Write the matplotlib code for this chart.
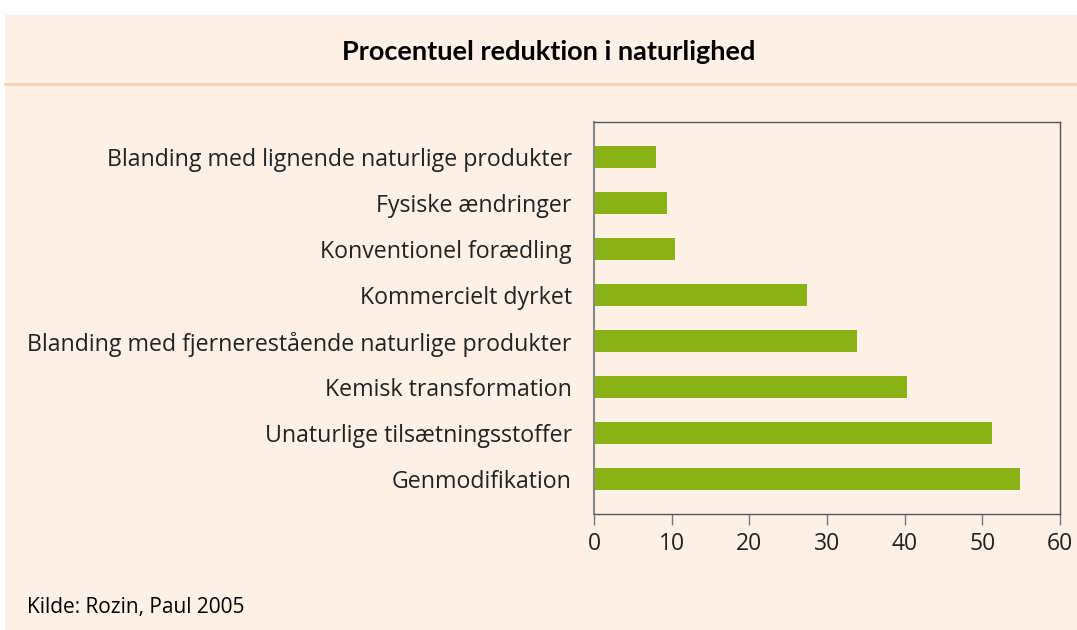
import matplotlib.pyplot as plt
from matplotlib.patches import Rectangle
from matplotlib.lines import Line2D

categories = [
    "Genmodifikation",
    "Unaturlige tilsætningsstoffer",
    "Kemisk transformation",
    "Blanding med fjernerestående naturlige produkter",
    "Kommercielt dyrket",
    "Konventionel forædling",
    "Fysiske ændringer",
    "Blanding med lignende naturlige produkter",
]
values = [54.8, 51.2, 40.3, 33.8, 27.4, 10.4, 9.4, 8.0]
xticks = [0, 10, 20, 30, 40, 50, 60]

bg = "#fdf0e7"
green = "#88b215"

plt.rcParams['font.family'] = ['Open Sans', 'DejaVu Sans']

fig = plt.figure(figsize=(10.77, 6.3), dpi=100)
W, H = 1077, 630

# peach panel with white margin top/left
fig.patches.append(Rectangle((5 / W, 0), 1, 1 - 15 / H, transform=fig.transFigure,
                             facecolor=bg, edgecolor='none', zorder=-2))
fig.lines.append(Line2D([5 / W, 1], [1 - 84 / H, 1 - 84 / H], transform=fig.transFigure,
                        color="#f8d3b5", lw=2, zorder=-1))
fig.text(549 / W, 1 - 52 / H, "Procentuel reduktion i naturlighed", ha='center', va='center',
         fontsize=19.5, fontweight='bold', family=['Lato', 'DejaVu Sans'])
fig.text(27 / W, 1 - 608 / H, "Kilde: Rozin, Paul 2005", ha='left', va='center', fontsize=15)

ax = fig.add_axes([594 / W, 1 - 514 / H, (1060 - 594) / W, (514 - 122) / H])
ax.set_facecolor(bg)
ax.barh(range(len(categories)), values, height=0.48, color=green, zorder=2)
ax.set_yticks(range(len(categories)))
ax.set_yticklabels(categories, fontsize=16.7, color="#222222")
ax.tick_params(axis='y', length=0, pad=16)
ax.set_xlim(0, 60)
ax.set_ylim(-0.75, 7.75)
ax.set_xticks(xticks)
ax.tick_params(axis='x', length=8, width=1, color="#777777", labelsize=16.5,
               labelcolor="#222222", pad=5)
for s in ax.spines.values():
    s.set_color("#555555")
    s.set_linewidth(1)
ax.spines['left'].set_color("#888888")
ax.spines['left'].set_linewidth(1.5)

fig.savefig("out.png", dpi=100, facecolor='white')
